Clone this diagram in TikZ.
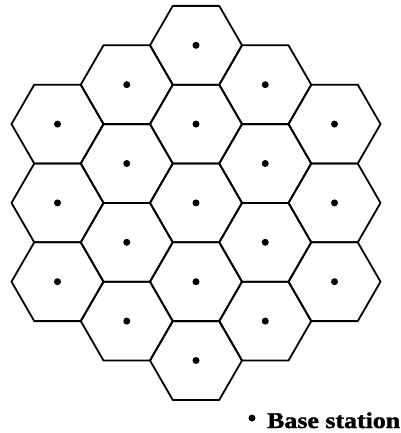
\documentclass[tikz,border=0pt]{standalone}
\usepackage{fontspec}
\setmainfont{Liberation Serif}
\newfontfamily\legendfont[FakeStretch=1.15,FakeBold=1.5]{Liberation Serif}
\begin{document}
\begin{tikzpicture}[x=1pt,y=-1pt,
  hexcell/.style={draw=black, line width=1.8pt, line join=round},
  station/.style={circle, fill=black, inner sep=0pt, minimum size=7pt},
  legendtext/.style={anchor=base west, inner sep=0pt, font=\legendfont\bfseries\fontsize{22.5}{24}\selectfont}]
\useasboundingbox (0,0) rectangle (400,433);
\fill[white] (0,0) rectangle (400,433);
\foreach \k/\n/\ys in {-2/3/124.1, -1/4/84.7, 0/5/45.3, 1/4/84.7, 2/3/124.1} {
  \pgfmathsetmacro\cx{196+69.25*\k}
  \foreach \j in {1,...,\n} {
    \pgfmathsetmacro\cy{\ys+78.8*(\j-1)}
    \draw[hexcell] (\cx-46,\cy) -- (\cx-23.25,\cy-39.4) -- (\cx+23.25,\cy-39.4)
      -- (\cx+46,\cy) -- (\cx+23.25,\cy+39.4) -- (\cx-23.25,\cy+39.4) -- cycle;
    \node[station] (bs\k\j) at (\cx,\cy) {};
  }
}
\node[station] (legdot) at (252,418) {};
\node[legendtext] (legtext) at (267,428) {Base station};
\end{tikzpicture}
\end{document}
